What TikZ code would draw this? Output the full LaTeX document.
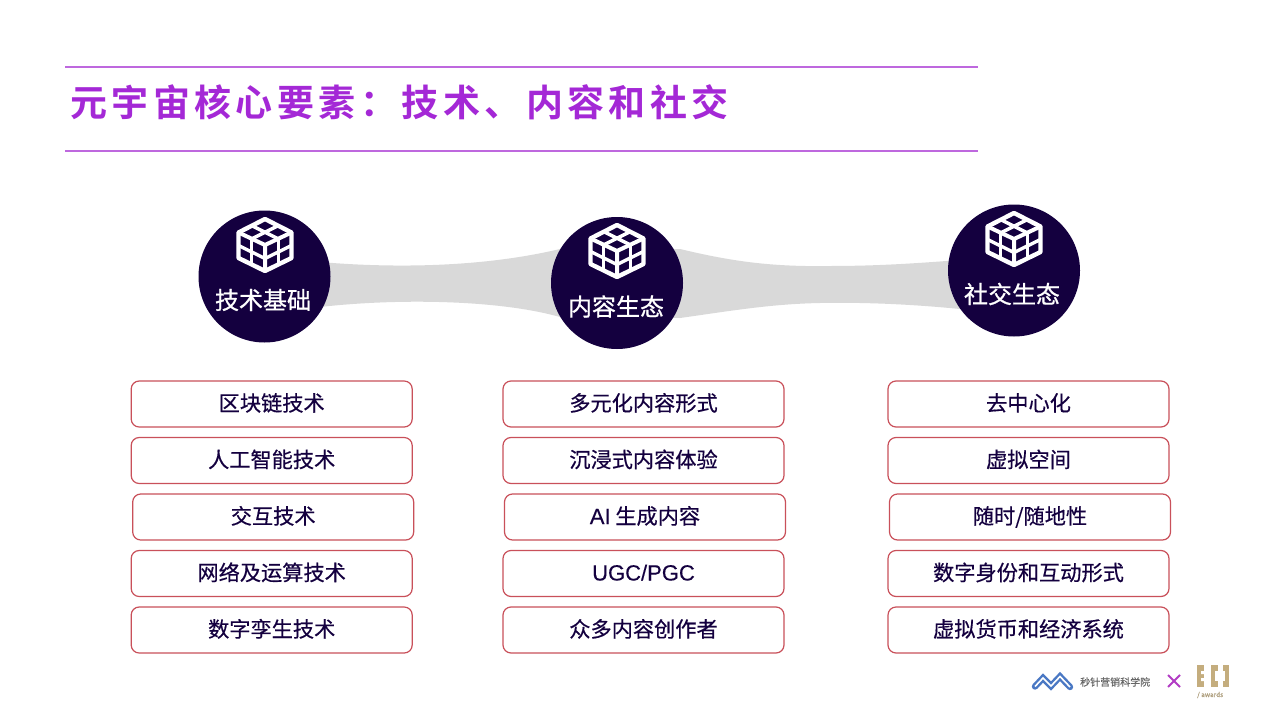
\documentclass[tikz,border=0pt]{standalone}
\usepackage{fontspec}
\setmainfont[FakeBold=0.5]{Noto Sans CJK SC}
\newfontfamily\titlefont[LetterSpace=12,BoldFont={Noto Sans CJK SC Bold}]{Noto Sans CJK SC}
\newfontfamily\hubfont[FakeBold=0.8]{Noto Sans CJK SC}
\newfontfamily\latinfont[FakeBold=0.3]{Liberation Sans}
\definecolor{navy}{HTML}{14003F}
\definecolor{purp}{HTML}{A428D6}
\definecolor{rulecol}{HTML}{BE68DE}
\definecolor{boxred}{HTML}{C9505A}
\definecolor{band}{HTML}{D9D9D9}
\definecolor{logoblue}{HTML}{4A78C4}
\definecolor{gold}{HTML}{C4AD7E}
\definecolor{xmark}{HTML}{B23CC4}
\tikzset{
  x=1pt,y=-1pt,
  itembox/.style={draw=boxred,line width=1.2pt,rounded corners=8pt,fill=white,minimum width=281pt,minimum height=46pt,inner sep=0pt,text height=16pt,text depth=2pt,text=navy,font=\fontsize{21.2}{24}\selectfont},
  hub/.style={circle,fill=navy,minimum size=132pt,inner sep=0pt},
  hublabel/.style={text=white,font=\hubfont\fontsize{24}{27}\selectfont,inner sep=0pt},
  titlerule/.style={draw=rulecol,line width=1.2pt},
  cubeicon/.style={draw=white,line width=4pt,line join=round},
  pics/cube/.style={code={
    \draw[cubeicon,line width=4.4pt] (0,-26) -- (26.5,-12.5) -- (26.5,13) -- (0,26) -- (-26.5,13) -- (-26.5,-12.5) -- cycle;
    \draw[cubeicon] (-26.5,-12.5) -- (0,0) -- (26.5,-12.5) (0,0) -- (0,26);
    \draw[cubeicon,line width=3.4pt] (-13.5,-19.5) -- (13.5,-6) (13.5,-19.5) -- (-13.5,-6);
    \draw[cubeicon,line width=3.4pt] (-13.5,-6) -- (-13.5,20) (13.5,-6) -- (13.5,20);
    \draw[cubeicon,line width=3.4pt] (-26.5,0.5) -- (0,13.5) -- (26.5,0.5);
  }}
}
\begin{document}
\begin{tikzpicture}
\useasboundingbox (0,0) rectangle (1280,720);
\fill[white] (0,0) rectangle (1280,720);
% title
\coordinate (r1a) at (65,67); \coordinate (r1b) at (978,67);
\coordinate (r2a) at (65,151); \coordinate (r2b) at (978,151);
\draw[titlerule] (r1a) -- (r1b);
\draw[titlerule] (r2a) -- (r2b);
\node[anchor=west,inner sep=0pt,text=purp] (title) at (70,102) {\titlefont\bfseries\fontsize{37}{42}\selectfont 元宇宙核心要素：技术、内容和社交};
% bands
\fill[band] (320,262) .. controls (390,268) and (480,268) .. (560,249) -- (680,249)
  .. controls (730,261) and (770,267) .. (830,266)
  .. controls (880,266) and (920,263) .. (960,260)
  -- (960,309) .. controls (920,305) and (870,302) .. (820,303)
  .. controls (770,304) and (730,311) .. (680,318)
  -- (560,317) .. controls (500,300) and (400,298) .. (320,307) -- cycle;
% hubs
\node[hub] (h1) at (264.5,276.5) {};
\node[hub] (h2) at (617,283) {};
\node[hub] (h3) at (1014,270.5) {};
\pic at (265,245) {cube};
\pic at (617,251) {cube};
\pic at (1014,239) {cube};
\node[hublabel] (l1) at (263,300) {技术基础};
\node[hublabel] (l2) at (616,306.5) {内容生态};
\node[hublabel] (l3) at (1012,294) {社交生态};
% boxes col 1
\node[itembox] (a1) at (271.7,404) {区块链技术};
\node[itembox] (a2) at (271.7,460.5) {人工智能技术};
\node[itembox] (a3) at (273.2,517) {交互技术};
\node[itembox] (a4) at (271.7,573.5) {网络及运算技术};
\node[itembox] (a5) at (271.7,630) {数字孪生技术};
% col 2
\node[itembox] (b1) at (643.5,404) {多元化内容形式};
\node[itembox] (b2) at (643.5,460.5) {沉浸式内容体验};
\node[itembox] (b3) at (645,517) {{\latinfont\fontsize{22}{24}\selectfont AI} 生成内容};
\node[itembox] (b4) at (643.5,573.5) {\latinfont\fontsize{22}{24}\selectfont UGC/PGC};
\node[itembox] (b5) at (643.5,630) {众多内容创作者};
% col 3
\node[itembox] (c1) at (1028.5,404) {去中心化};
\node[itembox] (c2) at (1028.5,460.5) {虚拟空间};
\node[itembox] (c3) at (1030,517) {随时/随地性};
\node[itembox] (c4) at (1028.5,573.5) {数字身份和互动形式};
\node[itembox] (c5) at (1028.5,630) {虚拟货币和经济系统};
% logo
\draw[logoblue,line width=6.4pt,line join=miter,line cap=round] (1035,686.5) -- (1043,678) -- (1051,686) -- (1060,676.5) -- (1070,687);
\draw[white,line width=1.6pt,line join=miter] (1035,686.5) -- (1043,678) -- (1051,686) -- (1060,676.5) -- (1070,687);
\node[anchor=west,inner sep=0pt,text=black!60,font=\fontsize{10}{11}\selectfont] (logotext) at (1080,682) {秒针营销科学院};
\draw[xmark,line width=1.8pt] (1168,675) -- (1180,687) (1180,675) -- (1168,687);
\fill[gold] (1197,665) rectangle (1204,687);
\fill[white] (1201,671) rectangle (1204,674) (1201,678) rectangle (1204,681);
\fill[gold] (1211,665) rectangle (1218,687);
\fill[white] (1214.5,671) rectangle (1218,681);
\fill[gold] (1223,665) rectangle (1229,687);
\fill[white] (1223,671) rectangle (1225,681);
\node[anchor=west,inner sep=0pt,text=gold!70!gray,font=\fontsize{6.5}{7}\selectfont] (awards) at (1197,695) {/ awards};
\end{tikzpicture}
\end{document}
